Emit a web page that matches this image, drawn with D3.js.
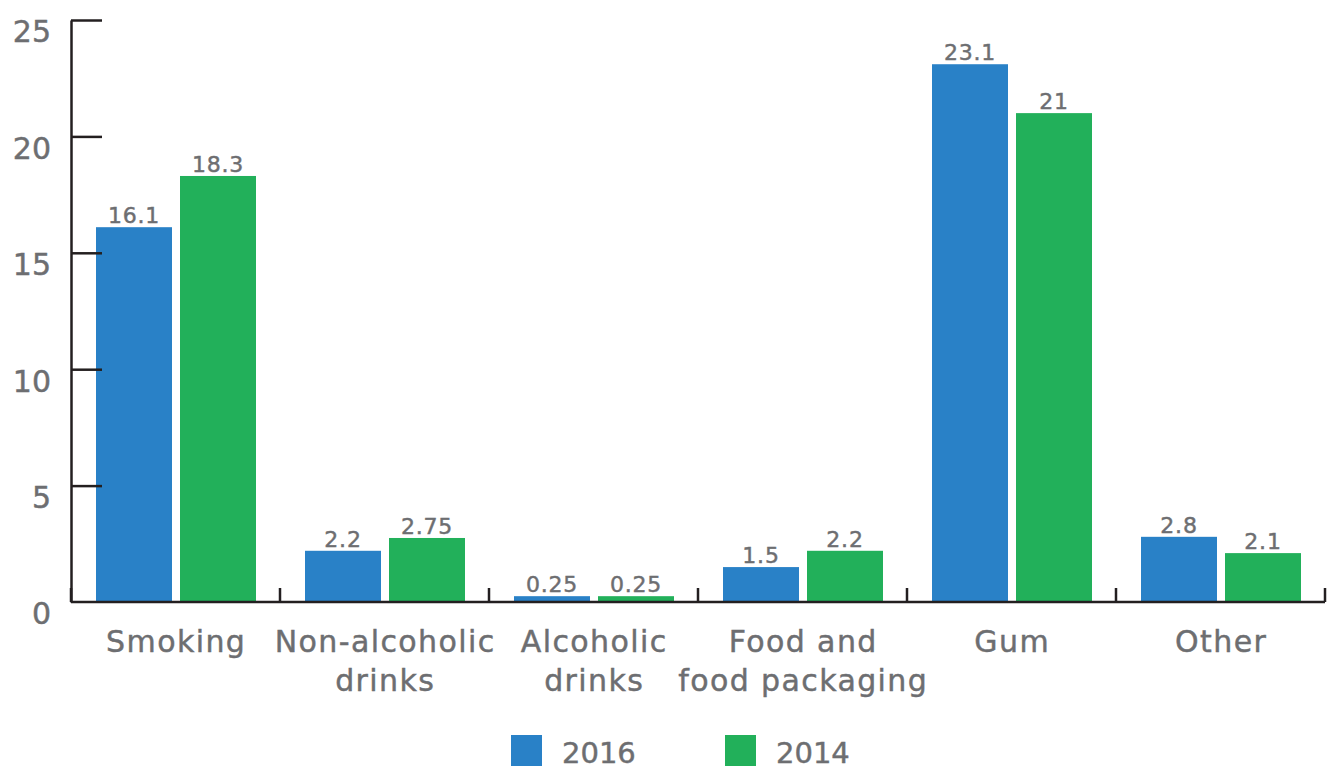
<!DOCTYPE html>
<html>
<head>
<meta charset="utf-8">
<script src="https://cdn.jsdelivr.net/npm/d3@7"></script>
<style>
  html, body { margin: 0; padding: 0; background: #fff; }
  svg { display: block; font-family: "DejaVu Sans", sans-serif; }
  svg text { stroke: #6d6e71; stroke-width: 0.45px; }
</style>
</head>
<body>
<svg id="chart" width="1330" height="769"></svg>
<script>
const categories = ["Smoking", "Non-alcoholic drinks", "Alcoholic drinks", "Food and food packaging", "Gum", "Other"];
const categoryLines = [["Smoking"], ["Non-alcoholic", "drinks"], ["Alcoholic", "drinks"], ["Food and", "food packaging"], ["Gum"], ["Other"]];
const seriesNames = ["2016", "2014"];
const values2016 = [16.1, 2.2, 0.25, 1.5, 23.1, 2.8];
const values2014 = [18.3, 2.75, 0.25, 2.2, 21, 2.1];
const yTicks = [0, 5, 10, 15, 20, 25];
const colors = ["#2981c7", "#22b05a"];

const textColor = "#6d6e71";
const axisColor = "#231f20";

const svg = d3.select("#chart");
const plotLeft = 71, plotRight = 1325, plotTop = 20, plotBottom = 602;

const x = d3.scaleBand().domain(categories).range([plotLeft, plotRight]).paddingInner(0).paddingOuter(0);
const x1 = d3.scaleBand().domain(seriesNames).range([25, 185]).paddingInner(8 / 84).paddingOuter(0);
const y = d3.scaleLinear().domain([0, 25]).range([plotBottom, plotTop]);
const color = d3.scaleOrdinal().domain(seriesNames).range(colors);

const data = categories.map((c, i) => ({
  cat: c,
  vals: [{ s: "2016", v: values2016[i] }, { s: "2014", v: values2014[i] }]
}));

// Bars
const groups = svg.append("g").selectAll("g").data(data).join("g")
  .attr("transform", d => `translate(${x(d.cat)},0)`);
groups.selectAll("rect").data(d => d.vals).join("rect")
  .attr("x", d => x1(d.s))
  .attr("width", x1.bandwidth())
  .attr("y", d => y(d.v))
  .attr("height", d => y(0) - y(d.v))
  .attr("fill", d => color(d.s));

// Value labels
groups.selectAll("text.val").data(d => d.vals).join("text")
  .attr("class", "val")
  .attr("x", d => x1(d.s) + x1.bandwidth() / 2)
  .attr("y", d => y(d.v) - 4)
  .attr("text-anchor", "middle")
  .attr("font-size", 22)
  .attr("letter-spacing", 0.8)
  .attr("fill", textColor)
  .text(d => String(d.v));

// Y axis
const yAxis = d3.axisLeft(y).tickValues(yTicks).tickSizeInner(-31).tickSizeOuter(0).tickPadding(20);
const gy = svg.append("g").attr("transform", `translate(${plotLeft},0)`).call(yAxis);
gy.selectAll("path.domain").attr("stroke", axisColor).attr("stroke-width", 2.5);
gy.selectAll(".tick line").attr("stroke", axisColor).attr("stroke-width", 2.5);
gy.selectAll(".tick").filter(d => d === 0).select("line").remove();
gy.selectAll(".tick text")
  .attr("dy", "0.73em")
  .attr("font-size", 30)
  .attr("font-family", "DejaVu Sans, sans-serif")
  .attr("fill", textColor);

// X axis baseline and boundary ticks
svg.append("line")
  .attr("x1", plotLeft).attr("x2", plotRight)
  .attr("y1", y(0)).attr("y2", y(0))
  .attr("stroke", axisColor).attr("stroke-width", 2.5);
const boundaries = categories.map(c => x(c)).concat([x(categories[categories.length - 1]) + x.bandwidth()]);
svg.append("g").selectAll("line").data(boundaries).join("line")
  .attr("x1", d => d).attr("x2", d => d)
  .attr("y1", y(0)).attr("y2", y(0) - 14)
  .attr("stroke", axisColor).attr("stroke-width", 2.5);

// Category labels
const catLabels = svg.append("g").selectAll("text").data(categories).join("text")
  .attr("x", c => x(c) + x.bandwidth() / 2 + 0.7)
  .attr("y", 652)
  .attr("text-anchor", "middle")
  .attr("font-size", 30)
  .attr("letter-spacing", 1.4)
  .attr("fill", textColor);
catLabels.selectAll("tspan").data((c, i) => categoryLines[i]).join("tspan")
  .attr("x", function () { return d3.select(this.parentNode).attr("x"); })
  .attr("dy", (d, i) => i === 0 ? 0 : 39)
  .text(d => d);

// Legend
const legendX = [511, 725];
const legend = svg.append("g").selectAll("g").data(seriesNames).join("g")
  .attr("transform", (d, i) => `translate(${legendX[i]},735)`);
legend.append("rect").attr("width", 31).attr("height", 31).attr("fill", d => color(d));
legend.append("text").attr("x", 51).attr("y", 28)
  .attr("font-size", 29).attr("fill", textColor).text(d => d);
</script>
</body>
</html>
